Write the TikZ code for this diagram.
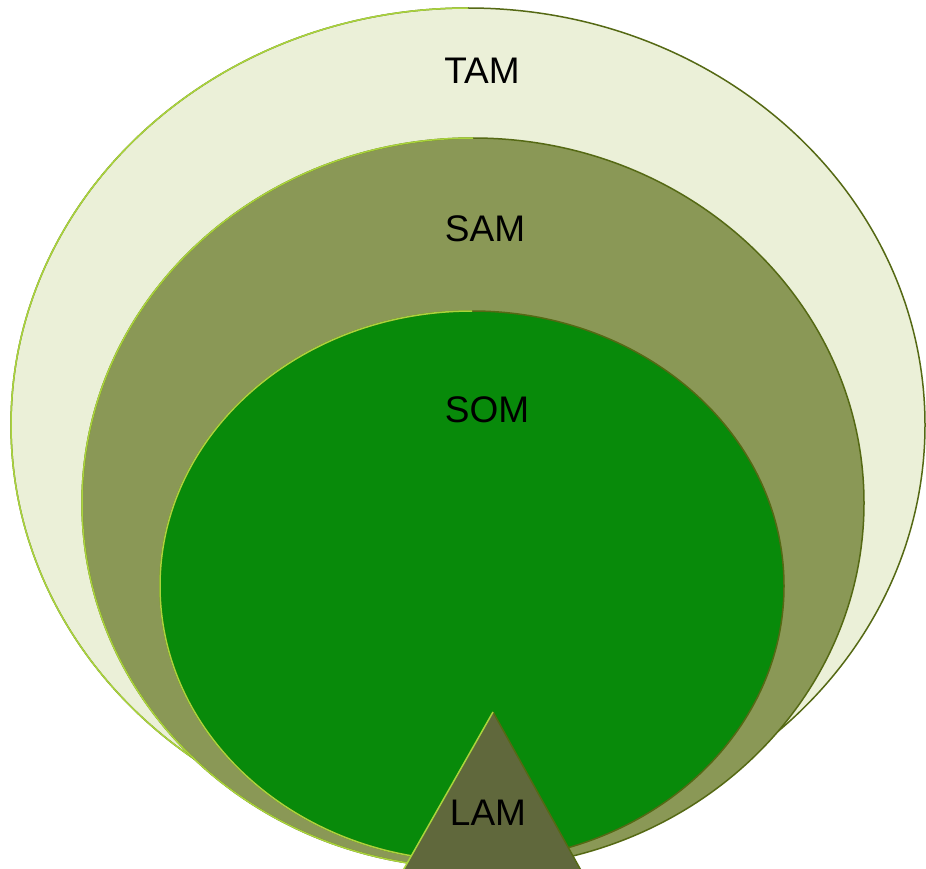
\documentclass[tikz,border=0pt]{standalone}
\usepackage{fontspec}
\setmainfont{Liberation Sans}
\definecolor{tamfill}{RGB}{235,240,216}
\definecolor{samfill}{RGB}{138,152,86}
\definecolor{somfill}{RGB}{8,138,10}
\definecolor{lamfill}{RGB}{96,104,60}
\definecolor{edgelight}{RGB}{170,212,60}
\definecolor{edgedark}{RGB}{85,105,20}
\newcommand\drawring[5]{%
  \fill[#5] (#1,#2) ellipse [x radius=#3pt, y radius=#4pt];
  \draw[edgedark, line width=1.5pt] (#1,#2) ellipse [x radius=#3pt, y radius=#4pt];
  \begin{scope}
    \clip (0,0) rectangle (#1,869);
    \draw[edgelight, line width=1.5pt] (#1,#2) ellipse [x radius=#3pt, y radius=#4pt];
  \end{scope}}
\begin{document}
\begin{tikzpicture}[x=1pt,y=-1pt,
  lbl/.style={font=\fontsize{37}{40}\selectfont, text=black, inner sep=0pt}]
\useasboundingbox (0,0) rectangle (926,869);
\clip (0,0) rectangle (926,869);
\fill[white] (0,0) rectangle (926,869);
% TAM
\drawring{468}{425}{457}{417}{tamfill}
% SAM
\drawring{473}{503}{391}{365}{samfill}
% SOM
\drawring{472}{586}{312}{275}{somfill}
% LAM triangle
\fill[lamfill] (493,712) -- (583,874) -- (401,874) -- cycle;
\draw[edgedark, line width=1.5pt] (493,712) -- (583,874);
\draw[edgelight, line width=1.5pt] (493,712) -- (401,874);
% labels
\node[lbl] (tam) at (482,71) {TAM};
\node[lbl] (sam) at (485,229) {SAM};
\node[lbl] (som) at (487,410) {SOM};
\node[lbl] (lam) at (488,813) {LAM};
\end{tikzpicture}
\end{document}
